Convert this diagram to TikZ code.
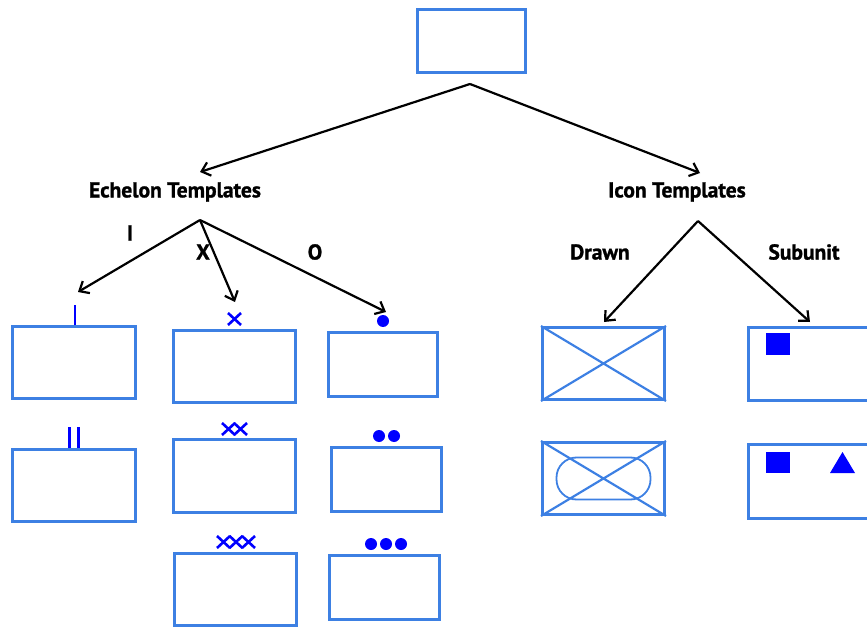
\documentclass[tikz,border=0pt]{standalone}
\usepackage{fontspec}
\setmainfont{PT Sans}
\newfontfamily\lblfont[FakeBold=1.2]{PT Sans Bold}
\usetikzlibrary{arrows.meta}
\definecolor{boxblue}{RGB}{61,128,227}
\definecolor{markblue}{RGB}{0,0,255}
\begin{document}
\begin{tikzpicture}[x=1pt,y=-1pt,
  tbox/.style={draw=boxblue,line width=2.6pt,inner sep=0pt,
    minimum width=#1-2.6pt,minimum height=72.4pt},
  tbox/.default=125pt,
  lbl/.style={font=\lblfont\fontsize{21.5}{24}\selectfont,inner sep=0pt},
  conn/.style={line width=2.2pt,-{Straight Barb[length=8pt,width=14pt,line width=2.2pt]}},
  markline/.style={draw=markblue,line width=2.6pt},
  diag/.style={draw=boxblue,line width=2.2pt},
  cross/.pic={\draw[markline] (-6.5,-6)--(6.5,6) (-6.5,6)--(6.5,-6);},
  dot/.pic={\fill[markblue] (0,0) circle (6pt);}]
\useasboundingbox (0,0) rectangle (867,628);
\clip (0,0) rectangle (867,628);

% root box
\node[tbox=111pt,minimum height=63.4pt] (root) at (471.5,41) {};

% branch titles
\node[lbl] (ech) at (175,192) {Echelon Templates};
\node[lbl] (icon) at (677,192) {Icon Templates};

% fork points and arrow tips
\coordinate (rootfork) at (470,84);
\coordinate (rootL) at (200,172);
\coordinate (rootR) at (700,173);
\coordinate (echfork) at (200,220);
\coordinate (tipI) at (78,292);
\coordinate (tipX) at (235,302);
\coordinate (tipO) at (386,312);
\coordinate (iconfork) at (698,221);
\coordinate (tipD) at (604,322);
\coordinate (tipS) at (810,322);

\draw[conn] (rootfork) -- (rootL);
\draw[conn] (rootfork) -- (rootR);
\draw[conn] (echfork) -- (tipI);
\draw[conn] (echfork) -- (tipX);
\draw[conn] (echfork) -- (tipO);
\draw[conn] (iconfork) -- (tipD);
\draw[conn] (iconfork) -- (tipS);

% branch labels
\node[lbl] (lI) at (130,233) {I};
\node[lbl] (lX) at (203,252) {X};
\node[lbl] (lO) at (315,252) {O};
\node[lbl] (lD) at (600,252) {Drawn};
\node[lbl] (lS) at (804,252) {Subunit};

% echelon: I column
\node[tbox=126pt] (e1) at (74,362.5) {};
\node[tbox=126pt] (e2) at (74,485.5) {};
\draw[markline] ([xshift=1pt]e1.north) -- ++(0,-20);
\draw[markline] ([xshift=-4.5pt]e2.north) -- ++(0,-21);
\draw[markline] ([xshift=4.5pt]e2.north) -- ++(0,-21);

% echelon: X column
\node[tbox] (x1) at (234.5,366.5) {};
\node[tbox,minimum height=73.4pt] (x2) at (234.5,476) {};
\node[tbox] (x3) at (235.5,589.5) {};
\pic at ([yshift=10pt]x1.north) {cross};
\pic at ([xshift=-6pt,yshift=9pt]x2.north) {cross};
\pic at ([xshift=6pt,yshift=9pt]x2.north) {cross};
\pic at ([xshift=-12pt,yshift=10pt]x3.north) {cross};
\pic at ([xshift=0.5pt,yshift=10pt]x3.north) {cross};
\pic at ([xshift=13pt,yshift=10pt]x3.north) {cross};

% echelon: O column
\node[tbox=112pt,minimum height=64.4pt] (o1) at (383,364.5) {};
\node[tbox=113pt,minimum height=64.4pt] (o2) at (386.5,479.5) {};
\node[tbox=113pt,minimum height=64.4pt] (o3) at (384.5,587.5) {};
\pic at ([yshift=10pt]o1.north) {dot};
\pic at ([xshift=-7.5pt,yshift=10pt]o2.north) {dot};
\pic at ([xshift=7.5pt,yshift=10pt]o2.north) {dot};
\pic at ([xshift=-13.5pt,yshift=10pt]o3.north) {dot};
\pic at ([xshift=1.5pt,yshift=10pt]o3.north) {dot};
\pic at ([xshift=16.5pt,yshift=10pt]o3.north) {dot};

% icon: drawn
\node[tbox] (d1) at (603.5,363.5) {};
\node[tbox] (d2) at (603.5,478.5) {};
\draw[diag] (d1.north west) -- (d1.south east) (d1.south west) -- (d1.north east);
\draw[diag] (d2.north west) -- (d2.south east) (d2.south west) -- (d2.north east);
\draw[diag,line width=1.8pt,rounded corners=20pt] ([shift={(-47pt,21pt)}]d2.center) rectangle ([shift={(47pt,-21pt)}]d2.center);

% icon: subunit
\node[tbox,minimum height=73.4pt] (s1) at (809.5,364) {};
\node[tbox,minimum height=74.4pt] (s2) at (809.5,481.5) {};
\fill[markblue] ([shift={(19pt,-7pt)}]s1.north west) rectangle ++(24,22);
\fill[markblue] ([shift={(19pt,-9pt)}]s2.north west) rectangle ++(24,21);
\fill[markblue] ([shift={(83pt,-30pt)}]s2.north west) -- ++(25,0) -- ++(-12.5,-21) -- cycle;
\end{tikzpicture}
\end{document}
